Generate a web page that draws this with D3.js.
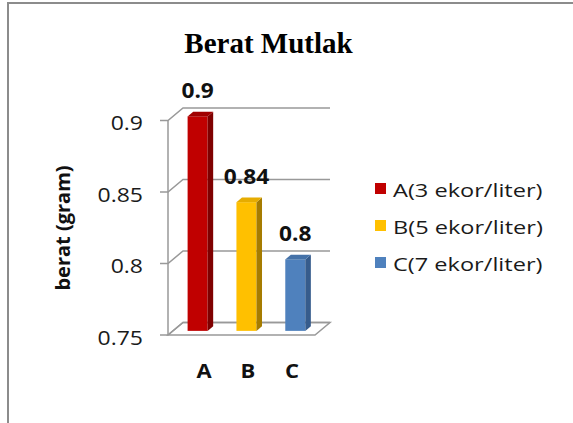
<!DOCTYPE html>
<html>
<head>
<meta charset="utf-8">
<script src="https://cdn.jsdelivr.net/npm/d3@7"></script>
<style>
  body { margin: 0; background: #fff; }
</style>
</head>
<body>
<script>
const CATEGORIES = ["A", "B", "C"];
const VALUES = [0.9, 0.84, 0.8];
const LEGEND_LABELS = ["A(3 ekor/liter)", "B(5 ekor/liter)", "C(7 ekor/liter)"];
const Y_TICKS = [0.75, 0.8, 0.85, 0.9];
const FRONT = ["#C00000", "#FFC000", "#4F81BD"];
const SIDE = ["#7F0000", "#A67C00", "#365C8C"];
const TOP = ["#A00000", "#E6AC00", "#4572A8"];

const WIDTH = 573;
const HEIGHT = 423;
const DX = 15;      // depth offset of the 3d box
const DY = -12.5;
const F1 = 0.33;    // bar front plane (fraction of depth)
const F2 = 0.7;     // bar back plane
const SANS = "'Open Sans', sans-serif";

const svg = d3.select("body").append("svg")
  .attr("width", WIDTH)
  .attr("height", HEIGHT);

// outer chart border
svg.append("rect")
  .attr("x", 8).attr("y", 3)
  .attr("width", WIDTH).attr("height", HEIGHT)
  .attr("fill", "#fff")
  .attr("stroke", "#8c8c8c")
  .attr("stroke-width", 2);

const x = d3.scaleBand().domain(CATEGORIES).range([168, 315])
  .paddingInner(0.59).paddingOuter(0.3);
const y = d3.scaleLinear().domain([0.75, 0.9]).range([335, 120.5]);
const [x0, x1] = x.range();

const grid = svg.append("g")
  .attr("stroke", "#999")
  .attr("stroke-width", 1.5)
  .attr("fill", "none");

// floor
grid.append("path")
  .attr("d", `M${x0},${y(0.75)}L${x1},${y(0.75)}L${x1 + DX},${y(0.75) + DY}L${x0 + DX},${y(0.75) + DY}Z`);

// back wall gridlines + side wall diagonals + tick marks
Y_TICKS.forEach((t) => {
  grid.append("path")
    .attr("d", `M${x0 - 8},${y(t)}L${x0},${y(t)}L${x0 + DX},${y(t) + DY}L${x1 + DX},${y(t) + DY}`);
});
grid.append("line")
  .attr("x1", x0).attr("x2", x0)
  .attr("y1", y(0.9)).attr("y2", y(0.75));

// tick labels
svg.append("g").selectAll("text")
  .data(Y_TICKS)
  .enter()
  .append("text")
  .attr("transform", (d) => `translate(143,${y(d) + 2}) scale(1.15,1)`)
  .attr("text-anchor", "end")
  .attr("dominant-baseline", "central")
  .attr("font-family", SANS)
  .attr("font-size", 20)
  .attr("fill", "#1a1a1a")
  .text((d) => d);

// bars
const bars = svg.append("g").selectAll("g")
  .data(VALUES)
  .enter()
  .append("g");

const bx = (i) => x(CATEGORIES[i]) + F1 * DX;
const bw = x.bandwidth();
const ddx = (F2 - F1) * DX;
const ddy = (F2 - F1) * DY;
const yTop = (d) => y(d) + F1 * DY;
const yBot = y(0.75) + F1 * DY;

bars.append("rect")
  .attr("x", (d, i) => bx(i))
  .attr("y", (d) => yTop(d))
  .attr("width", bw)
  .attr("height", (d) => yBot - yTop(d))
  .attr("fill", (d, i) => FRONT[i]);

bars.append("path")
  .attr("d", (d, i) => {
    const r = bx(i) + bw;
    return `M${r},${yTop(d)}L${r + ddx},${yTop(d) + ddy}L${r + ddx},${yBot + ddy}L${r},${yBot}Z`;
  })
  .attr("fill", (d, i) => SIDE[i]);

bars.append("path")
  .attr("d", (d, i) => {
    const l = bx(i);
    return `M${l},${yTop(d)}L${l + ddx},${yTop(d) + ddy}L${l + bw + ddx},${yTop(d) + ddy}L${l + bw},${yTop(d)}Z`;
  })
  .attr("fill", (d, i) => TOP[i]);

// data labels
bars.append("text")
  .attr("transform", (d, i) => `translate(${bx(i) + bw / 2},${yTop(d) - 18}) scale(1.08,1)`)
  .attr("text-anchor", "middle")
  .attr("font-family", SANS)
  .attr("font-weight", "bold")
  .attr("font-size", 21)
  .attr("fill", "#111")
  .text((d) => d);

// category labels
const xl = d3.scalePoint().domain(CATEGORIES).range([204, 292]);
svg.append("g").selectAll("text")
  .data(CATEGORIES)
  .enter()
  .append("text")
  .attr("transform", (d) => `translate(${xl(d)},378) scale(1.1,1)`)
  .attr("text-anchor", "middle")
  .attr("font-family", SANS)
  .attr("font-weight", "bold")
  .attr("font-size", 20)
  .attr("fill", "#111")
  .text((d) => d);

// y axis title
svg.append("text")
  .attr("transform", "translate(62,228) rotate(-90)")
  .attr("text-anchor", "middle")
  .attr("dominant-baseline", "central")
  .attr("font-family", SANS)
  .attr("font-weight", "bold")
  .attr("font-size", 20)
  .attr("fill", "#111")
  .text("berat (gram)");

// title
svg.append("text")
  .attr("x", 268.5)
  .attr("y", 53)
  .attr("text-anchor", "middle")
  .attr("font-family", "'Liberation Serif', 'Times New Roman', serif")
  .attr("font-weight", "bold")
  .attr("font-size", 29)
  .attr("fill", "#000")
  .text("Berat Mutlak");

// legend
const legend = svg.append("g").selectAll("g")
  .data(LEGEND_LABELS)
  .enter()
  .append("g")
  .attr("transform", (d, i) => `translate(375,${188.5 + i * 37})`);

legend.append("rect")
  .attr("x", 0).attr("y", -5.5)
  .attr("width", 11).attr("height", 11)
  .attr("fill", (d, i) => FRONT[i]);

legend.append("text")
  .attr("transform", "translate(18,1) scale(1.24,1)")
  .attr("dominant-baseline", "central")
  .attr("font-family", SANS)
  .attr("font-size", 19)
  .attr("fill", "#1a1a1a")
  .text((d) => d);
</script>
</body>
</html>
